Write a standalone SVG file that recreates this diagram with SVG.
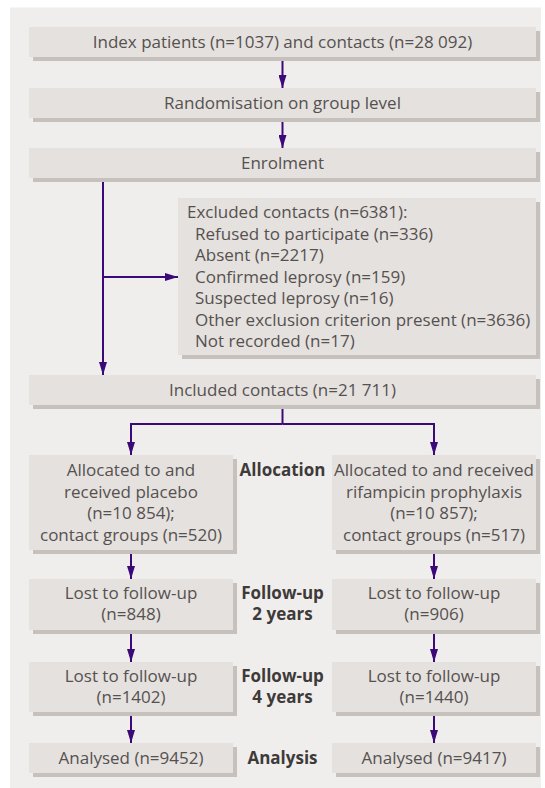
<svg xmlns="http://www.w3.org/2000/svg" width="545" height="788" viewBox="0 0 545 788">
<defs>
<style>
.sh{fill:#c7c1be}
.bx{fill:#e5e1de}
.t{font-family:"Open Sans","Noto Sans","Liberation Sans",sans-serif;font-size:17px;fill:#555150}
.c{text-anchor:middle}
.b{font-family:"Open Sans","Noto Sans","Liberation Sans",sans-serif;font-size:17px;font-weight:bold;fill:#3e3a39;text-anchor:middle}
.ln{stroke:#3b0a78;stroke-width:2;fill:none}
.ar{marker-end:url(#ah)}
</style>
<marker id="ah" viewBox="0 0 13 8" refX="13" refY="4" markerWidth="13" markerHeight="8" markerUnits="userSpaceOnUse" orient="auto">
<path d="M0,0 L13,4 L0,8 z" fill="#3b0a78"/>
</marker>
</defs>
<rect x="10" y="7.5" width="531" height="781" fill="#f0eeed"/>

<g id="connectors">
<line class="ln ar" x1="282.5" y1="57" x2="282.5" y2="88"/>
<line class="ln ar" x1="282.5" y1="118" x2="282.5" y2="148"/>
<line class="ln ar" x1="103" y1="178" x2="103" y2="375"/>
<line class="ln ar" x1="103" y1="277" x2="178" y2="277"/>
<polyline class="ln" points="282.5,405 282.5,424"/>
<polyline class="ln ar" points="282.5,424 131,424 131,455"/>
<polyline class="ln ar" points="282.5,424 434,424 434,455"/>
<line class="ln ar" x1="131" y1="550" x2="131" y2="579"/>
<line class="ln ar" x1="434" y1="550" x2="434" y2="579"/>
<line class="ln ar" x1="131" y1="630" x2="131" y2="662"/>
<line class="ln ar" x1="434" y1="630" x2="434" y2="662"/>
<line class="ln ar" x1="131" y1="712" x2="131" y2="743"/>
<line class="ln ar" x1="434" y1="712" x2="434" y2="743"/>
</g>

<g id="index">
<rect class="sh" x="33" y="31" width="507" height="30"/>
<rect class="bx" x="29" y="27" width="507" height="30"/>
<text class="t c" x="282.5" y="48">Index patients (n=1037) and contacts (n=28 092)</text>
</g>
<g id="randomisation">
<rect class="sh" x="33" y="92" width="507" height="30"/>
<rect class="bx" x="29" y="88" width="507" height="30"/>
<text class="t c" x="282.5" y="109">Randomisation on group level</text>
</g>
<g id="enrolment">
<rect class="sh" x="33" y="152" width="507" height="30"/>
<rect class="bx" x="29" y="148" width="507" height="30"/>
<text class="t c" x="282.5" y="169">Enrolment</text>
</g>
<g id="excluded">
<rect class="sh" x="182" y="202" width="358" height="157"/>
<rect class="bx" x="178" y="198" width="358" height="157"/>
<text class="t" x="187" y="218">Excluded contacts (n=6381):</text>
<text class="t" x="195" y="240">Refused to participate (n=336)</text>
<text class="t" x="195" y="261">Absent (n=2217)</text>
<text class="t" x="195" y="283">Confirmed leprosy (n=159)</text>
<text class="t" x="195" y="304">Suspected leprosy (n=16)</text>
<text class="t" x="195" y="326">Other exclusion criterion present (n=3636)</text>
<text class="t" x="195" y="347">Not recorded (n=17)</text>
</g>
<g id="included">
<rect class="sh" x="33" y="379" width="507" height="30"/>
<rect class="bx" x="29" y="375" width="507" height="30"/>
<text class="t c" x="282.5" y="396">Included contacts (n=21 711)</text>
</g>
<g id="placebo">
<rect class="sh" x="33" y="459" width="204" height="95"/>
<rect class="bx" x="29" y="455" width="204" height="95"/>
<text class="t c" x="131" y="476">Allocated to and</text>
<text class="t c" x="131" y="497.5">received placebo</text>
<text class="t c" x="131" y="519">(n=10 854);</text>
<text class="t c" x="131" y="540.5">contact groups (n=520)</text>
</g>
<g id="rifampicin">
<rect class="sh" x="336" y="459" width="204" height="95"/>
<rect class="bx" x="332" y="455" width="204" height="95"/>
<text class="t c" x="434" y="476">Allocated to and received</text>
<text class="t c" x="434" y="497.5">rifampicin prophylaxis</text>
<text class="t c" x="434" y="519">(n=10 857);</text>
<text class="t c" x="434" y="540.5">contact groups (n=517)</text>
</g>
<g id="lost2-placebo">
<rect class="sh" x="33" y="583" width="204" height="51"/>
<rect class="bx" x="29" y="579" width="204" height="51"/>
<text class="t c" x="131" y="599">Lost to follow-up</text>
<text class="t c" x="131" y="620">(n=848)</text>
</g>
<g id="lost2-rif">
<rect class="sh" x="336" y="583" width="204" height="51"/>
<rect class="bx" x="332" y="579" width="204" height="51"/>
<text class="t c" x="434" y="599">Lost to follow-up</text>
<text class="t c" x="434" y="620">(n=906)</text>
</g>
<g id="lost4-placebo">
<rect class="sh" x="33" y="666" width="204" height="50"/>
<rect class="bx" x="29" y="662" width="204" height="50"/>
<text class="t c" x="131" y="682">Lost to follow-up</text>
<text class="t c" x="131" y="703">(n=1402)</text>
</g>
<g id="lost4-rif">
<rect class="sh" x="336" y="666" width="204" height="50"/>
<rect class="bx" x="332" y="662" width="204" height="50"/>
<text class="t c" x="434" y="682">Lost to follow-up</text>
<text class="t c" x="434" y="703">(n=1440)</text>
</g>
<g id="analysed-placebo">
<rect class="sh" x="33" y="747" width="204" height="30"/>
<rect class="bx" x="29" y="743" width="204" height="30"/>
<text class="t c" x="131" y="764">Analysed (n=9452)</text>
</g>
<g id="analysed-rif">
<rect class="sh" x="336" y="747" width="204" height="30"/>
<rect class="bx" x="332" y="743" width="204" height="30"/>
<text class="t c" x="434" y="764">Analysed (n=9417)</text>
</g>
<g id="labels">
<text class="b" x="282.5" y="476">Allocation</text>
<text class="b" x="282.5" y="599">Follow-up</text>
<text class="b" x="282.5" y="620">2 years</text>
<text class="b" x="282.5" y="682">Follow-up</text>
<text class="b" x="282.5" y="703">4 years</text>
<text class="b" x="282.5" y="764">Analysis</text>
</g>
</svg>
